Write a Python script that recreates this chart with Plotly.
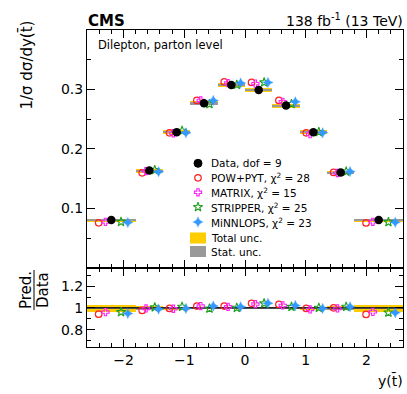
import plotly.graph_objects as go

# ---------------- data ----------------
BIN_EDGES = [-2.6, -1.8, -1.35, -0.9, -0.45, 0.0, 0.45, 0.9, 1.35, 1.8, 2.6]
DATA = [0.0802, 0.1635, 0.2281, 0.2768, 0.3076, 0.2992, 0.2728, 0.2281, 0.1602, 0.0802]
TOT_REL = [0.031, 0.020, 0.014, 0.012, 0.012, 0.012, 0.012, 0.014, 0.020, 0.031]
STAT_REL = [0.012, 0.008, 0.006, 0.005, 0.005, 0.005, 0.005, 0.006, 0.008, 0.012]
POW = [0.0756, 0.1597, 0.2270, 0.2815, 0.3128, 0.3118, 0.2815, 0.2270, 0.1604, 0.0754]
MATRIX = [0.0771, 0.1627, 0.2263, 0.2815, 0.3107, 0.3097, 0.2791, 0.2249, 0.1594, 0.0773]
STRIPPER = [0.0771, 0.1643, 0.2304, 0.2754, 0.3079, 0.3118, 0.2755, 0.2283, 0.1618, 0.0768]
MINNLOPS = [0.0761, 0.1617, 0.2270, 0.2815, 0.3107, 0.3118, 0.2791, 0.2270, 0.1618, 0.0766]
MAIN_TICKS = [0.1, 0.2, 0.3]
RATIO_TICKS = [0.8, 1.0, 1.2]
RATIO_TICKTEXT = ["0.8", "1", "1.2"]
X_TICKS = [-2, -1, 0, 1, 2]

FONT = "DejaVu Sans"
GOLD = "#ffcc00"
GRAY = "#999999"

centers = [(a + b) / 2 for a, b in zip(BIN_EDGES[:-1], BIN_EDGES[1:])]
widths = [b - a for a, b in zip(BIN_EDGES[:-1], BIN_EDGES[1:])]

preds = [
    ("POW+PYT, χ<sup>2</sup> = 28", POW, "circle-open", "#ff2020", 6.5, 1.2, -0.26),
    ("MATRIX, χ<sup>2</sup> = 15", MATRIX, "cross-open", "#ff20ff", 6, 1.1, -0.12),
    ("STRIPPER, χ<sup>2</sup> = 25", STRIPPER, "star-open", "#20a020", 7, 1.1, 0.20),
    ("MiNNLOPS, χ<sup>2</sup> = 23", MINNLOPS, "star-diamond", "#3399ff", 7.5, 0.3, 0.34),
]

fig = go.Figure()

# uncertainty bands (main)
for rel, col in [(TOT_REL, GOLD), (STAT_REL, GRAY)]:
    fig.add_trace(go.Bar(
        x=centers, width=widths,
        base=[d * (1 - r) for d, r in zip(DATA, rel)],
        y=[2 * d * r for d, r in zip(DATA, rel)],
        marker=dict(color=col, line=dict(width=0)),
        xaxis="x", yaxis="y", showlegend=False, hoverinfo="skip"))
# uncertainty bands (ratio)
for rel, col in [(TOT_REL, GOLD), (STAT_REL, GRAY)]:
    fig.add_trace(go.Bar(
        x=centers, width=widths,
        base=[1 - r for r in rel],
        y=[2 * r for r in rel],
        marker=dict(color=col, line=dict(width=0)),
        xaxis="x2", yaxis="y2", showlegend=False, hoverinfo="skip"))

# unity line in ratio
fig.add_trace(go.Scatter(x=[BIN_EDGES[0], BIN_EDGES[-1]], y=[1, 1], mode="lines",
                         line=dict(color="black", width=1.2),
                         xaxis="x2", yaxis="y2", showlegend=False, hoverinfo="skip"))

# predictions
for name, vals, sym, col, size, lw, off in preds:
    xs = [c + off * w for c, w in zip(centers, widths)]
    mk = dict(symbol=sym, color=col, size=size, line=dict(color=col, width=lw))
    fig.add_trace(go.Scatter(x=xs, y=vals, mode="markers", marker=mk,
                             xaxis="x", yaxis="y", showlegend=False, cliponaxis=False))
    fig.add_trace(go.Scatter(x=xs, y=[v / d for v, d in zip(vals, DATA)], mode="markers",
                             marker=mk, xaxis="x2", yaxis="y2", showlegend=False,
                             cliponaxis=False))

# data
fig.add_trace(go.Scatter(x=centers, y=DATA, mode="markers",
                         marker=dict(symbol="circle", color="black", size=8.5),
                         xaxis="x", yaxis="y", showlegend=False, cliponaxis=False))

# ---------------- layout helpers ----------------
L, R, T, B, W, H = 87, 4, 30, 47, 407, 394
def px(xp):
    return (xp - L) / (W - L - R)
def py(yp):
    return (H - B - yp) / (H - T - B)

# custom legend: markers on a free overlay subplot in pixel units
leg_rows = [163.3, 177.8, 192.3, 207.0, 222.0, 238.0, 251.5]
leg_x_marker = 198
leg_x_text = 209
legend_markers = [dict(symbol="circle", color="black", size=8, line=dict(color="black", width=1))]
for name, vals, sym, col, size, lw, off in preds:
    legend_markers.append(dict(symbol=sym, color=col, size=size, line=dict(color=col, width=lw)))
for i, mk in enumerate(legend_markers):
    fig.add_trace(go.Scatter(x=[leg_x_marker], y=[leg_rows[i]], mode="markers", marker=mk,
                             xaxis="x3", yaxis="y3", showlegend=False, cliponaxis=False,
                             hoverinfo="skip"))

leg_texts = ["Data, dof = 9"] + [p[0] for p in preds] + ["Total unc.", "Stat. unc."]
annotations = []
for t, yr in zip(leg_texts, leg_rows):
    annotations.append(dict(text=t, x=px(leg_x_text), y=py(yr), xref="paper", yref="paper",
                            xanchor="left", yanchor="middle", showarrow=False,
                            font=dict(family=FONT, size=10.5, color="black")))

shapes = [
    dict(type="rect", xref="paper", yref="paper", x0=px(190), x1=px(206), y0=py(243.5), y1=py(232.5),
         fillcolor=GOLD, line=dict(width=0)),
    dict(type="rect", xref="paper", yref="paper", x0=px(190), x1=px(206), y0=py(257), y1=py(246),
         fillcolor=GRAY, line=dict(width=0)),
    # fraction bar for Pred./Data
    dict(type="line", xref="paper", yref="paper", x0=px(34), x1=px(34), y0=py(270), y1=py(310),
         line=dict(color="black", width=1)),
]

annotations += [
    dict(text="<b>CMS</b>", x=px(86), y=py(21), xref="paper", yref="paper", xanchor="left",
         yanchor="middle", showarrow=False, font=dict(family=FONT, size=15, color="black")),
    dict(text="138 fb<sup>-1</sup> (13 TeV)", x=px(405), y=py(20), xref="paper", yref="paper",
         xanchor="right", yanchor="middle", showarrow=False, font=dict(family=FONT, size=14, color="black")),
    dict(text="Dilepton, parton level", x=px(96), y=py(45), xref="paper", yref="paper",
         xanchor="left", yanchor="middle", showarrow=False, font=dict(family=FONT, size=11.5, color="black")),
    dict(text="1/σ dσ/dy(t\u0304)", x=px(27), y=py(18), xref="paper", yref="paper", textangle=-90,
         xanchor="center", yanchor="top", showarrow=False, font=dict(family=FONT, size=15, color="black")),
    dict(text="Pred.", x=px(26), y=py(290), xref="paper", yref="paper", textangle=-90,
         xanchor="center", yanchor="middle", showarrow=False, font=dict(family=FONT, size=15, color="black")),
    dict(text="Data", x=px(43), y=py(290), xref="paper", yref="paper", textangle=-90,
         xanchor="center", yanchor="middle", showarrow=False, font=dict(family=FONT, size=15, color="black")),
    dict(text="y(t\u0304)", x=px(405), y=py(380), xref="paper", yref="paper",
         xanchor="right", yanchor="middle", showarrow=False, font=dict(family=FONT, size=14, color="black")),
]

axis_common = dict(showline=True, linecolor="black", linewidth=1, mirror="allticks",
                   ticks="inside", ticklen=8, tickwidth=1, tickcolor="black",
                   showgrid=False, zeroline=False,
                   tickfont=dict(family=FONT, size=14, color="black"))

fig.update_layout(
    width=W, height=H,
    margin=dict(l=L, r=R, t=T, b=B),
    paper_bgcolor="white", plot_bgcolor="rgba(0,0,0,0)",
    barmode="overlay", bargap=0,
    showlegend=False,
    xaxis=dict(domain=[0, 1], anchor="y", range=[BIN_EDGES[0], BIN_EDGES[-1]],
               tickvals=X_TICKS, showticklabels=False,
               minor=dict(dtick=0.2, tick0=0, ticks="inside", ticklen=4, tickcolor="black"),
               **axis_common),
    xaxis2=dict(domain=[0, 1], anchor="y2", range=[BIN_EDGES[0], BIN_EDGES[-1]],
                tickvals=X_TICKS, matches="x",
                minor=dict(dtick=0.2, tick0=0, ticks="inside", ticklen=4, tickcolor="black"),
                **axis_common),
    yaxis=dict(domain=[0.25, 1], anchor="x", range=[0, 0.4], tickvals=MAIN_TICKS,
               minor=dict(dtick=0.05, tick0=0, ticks="inside", ticklen=4, tickcolor="black"),
               **axis_common),
    yaxis2=dict(domain=[0, 0.25], anchor="x2", range=[0.64, 1.37], tickvals=RATIO_TICKS,
                ticktext=RATIO_TICKTEXT,
                minor=dict(dtick=0.1, tick0=0, ticks="inside", ticklen=4, tickcolor="black"),
                **axis_common),
    xaxis3=dict(domain=[0, 1], anchor="y3", range=[L, W - R], visible=False, fixedrange=True),
    yaxis3=dict(domain=[0, 1], anchor="x3", range=[H - B, T], visible=False, fixedrange=True),
    annotations=annotations,
    shapes=shapes,
)

fig.write_html("out.html", config={"displayModeBar": False},
               post_script="document.body.style.margin='0';")
